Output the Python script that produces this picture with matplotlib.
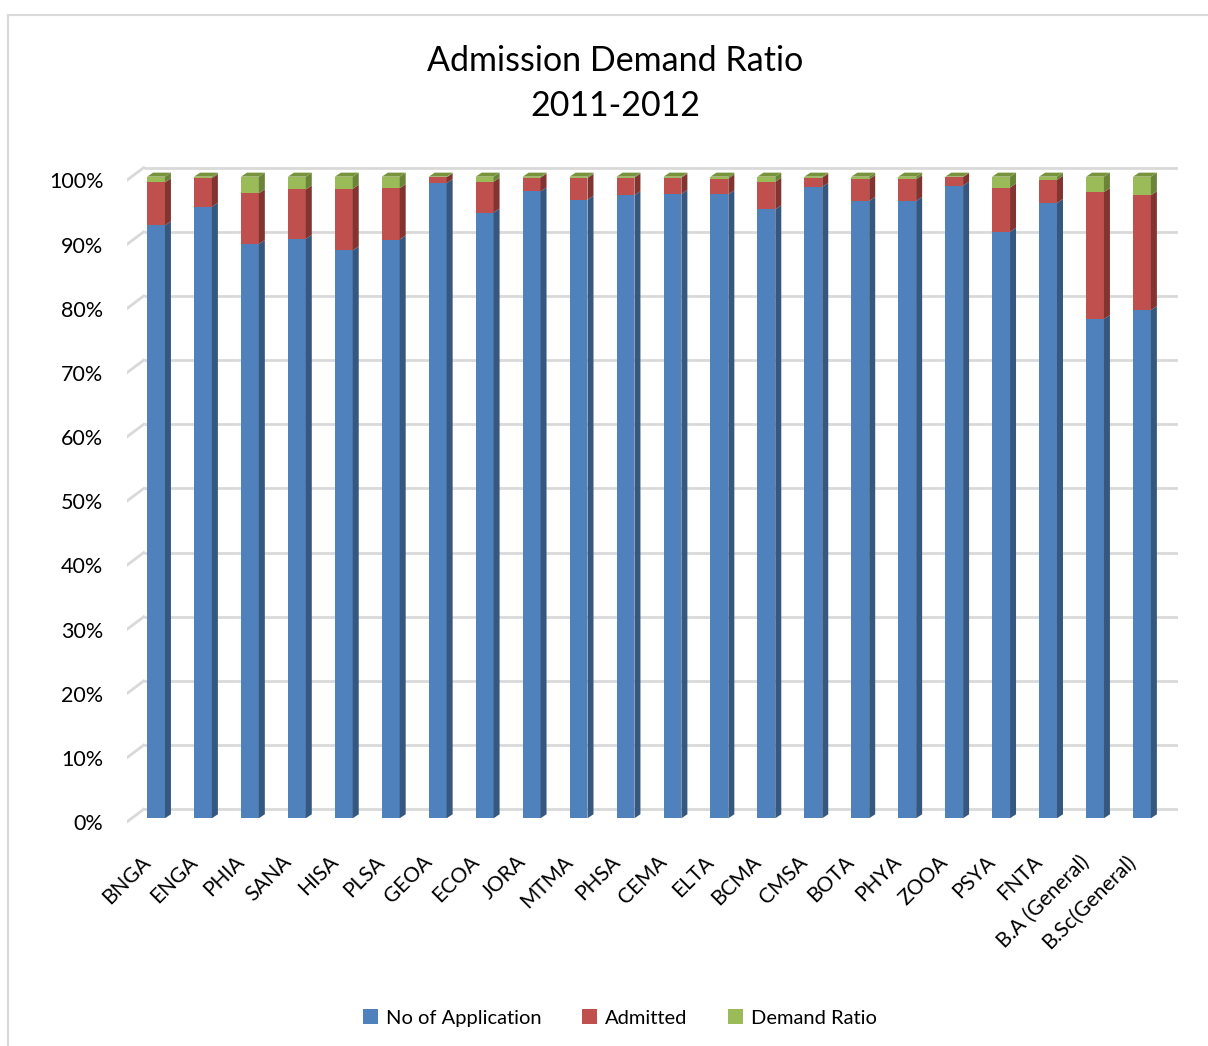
import numpy as np
import matplotlib
matplotlib.use("Agg")
import matplotlib.pyplot as plt
from matplotlib.patches import Polygon
from matplotlib.lines import Line2D
import matplotlib.transforms as mtransforms

plt.rcParams['font.family'] = ['Lato', 'DejaVu Sans']

categories = ["BNGA", "ENGA", "PHIA", "SANA", "HISA", "PLSA", "GEOA", "ECOA", "JORA",
              "MTMA", "PHSA", "CEMA", "ELTA", "BCMA", "CMSA", "BOTA", "PHYA", "ZOOA",
              "PSYA", "FNTA", "B.A (General)", "B.Sc(General)"]
applications = [92.4, 95.3, 89.5, 90.3, 88.5, 90.2, 99.0, 94.4, 97.7, 96.4, 97.1,
                97.3, 97.25, 94.9, 98.4, 96.2, 96.2, 98.6, 91.4, 95.9, 77.8, 79.2]
admitted = [6.7, 4.45, 7.9, 7.7, 9.6, 8.0, 0.9, 4.8, 2.15, 3.4, 2.75,
            2.55, 2.45, 4.3, 1.45, 3.4, 3.4, 1.35, 6.9, 3.6, 19.8, 17.9]
demand_ratio = [0.9, 0.25, 2.6, 2.0, 1.9, 1.8, 0.1, 0.8, 0.15, 0.2, 0.15,
                0.15, 0.3, 0.8, 0.15, 0.4, 0.4, 0.05, 1.7, 0.5, 2.4, 2.9]
series_names = ["No of Application", "Admitted", "Demand Ratio"]
y_ticks = list(range(0, 101, 10))

front_cols = ["#4F81BD", "#C0504D", "#9BBB59"]
side_cols = ["#36587F", "#823431", "#6A853A"]
top_cols = ["#5A8AC4", "#C85F5C", "#77933C"]

W, H = 1208, 1046
fig = plt.figure(figsize=(W / 100, H / 100), dpi=100)

# axes geometry (pixels)
px_per_unit = 6.416
ax_left, ax_right = 127, 1178
ax_top, ax_bot = 157.4, 831.1
ax = fig.add_axes([ax_left / W, 1 - ax_bot / H, (ax_right - ax_left) / W, (ax_bot - ax_top) / H])
x0 = -0.618
x1 = x0 + (ax_right - ax_left) / 46.95
ax.set_xlim(x0, x1)
ax.set_ylim(-2, 103)
for s in ax.spines.values():
    s.set_visible(False)

# back wall gridlines with perspective
depth_x = 16.7 / 46.95
grid_col = "#D9D9D9"
for v in y_ticks:
    ax.plot([x0 + depth_x, x1], [v + 1.4, v + 1.4], color=grid_col, lw=2.0, zorder=0.5,
            solid_capstyle="butt")
    ax.plot([x0, x0 + depth_x], [v - 0.55, v + 1.4], color=grid_col, lw=2.0, zorder=0.5)

xs = np.arange(len(categories))
bw = 0.38
dx = 6.0 / 46.95
dy = 4.0 / px_per_unit
bottoms = np.zeros(len(categories))
data = [applications, admitted, demand_ratio]
for k, vals in enumerate(data):
    vals = np.array(vals)
    ax.bar(xs, vals, bw, bottom=bottoms, color=front_cols[k], edgecolor="none",
           label=series_names[k], zorder=2)
    for i in range(len(xs)):
        y0 = bottoms[i]
        y1 = y0 + vals[i]
        xr = xs[i] + bw / 2
        side = Polygon([(xr, y0), (xr + dx, y0 + dy), (xr + dx, y1 + dy), (xr, y1)],
                       closed=True, facecolor=side_cols[k], edgecolor="none", zorder=2)
        ax.add_patch(side)
    bottoms = bottoms + vals

for i in range(len(xs)):
    xl = xs[i] - bw / 2
    xr = xs[i] + bw / 2
    t = bottoms[i]
    top = Polygon([(xl, t), (xr, t), (xr + dx, t + dy), (xl + dx, t + dy)], closed=True,
                  facecolor=top_cols[2], edgecolor="none", zorder=2)
    ax.add_patch(top)

ax.set_yticks(np.array(y_ticks) - 0.6)
ax.set_yticklabels([f"{v}%" for v in y_ticks], fontsize=15.5)
ax.tick_params(axis="y", length=0, pad=17)
ax.set_xticks(xs)
ax.set_xticklabels(categories, fontsize=15, rotation=45, ha="right", va="center",
                   rotation_mode="anchor")
ax.tick_params(axis="x", length=0, pad=20)
offset = mtransforms.ScaledTranslation(-9 / 100, 0, fig.dpi_scale_trans)
for lab in ax.get_xticklabels():
    lab.set_transform(lab.get_transform() + offset)

fig.text(615 / W, 1 - 61 / H, "Admission Demand Ratio", ha="center", va="center", fontsize=24.5)
fig.text(615 / W, 1 - 106 / H, "2011-2012", ha="center", va="center", fontsize=24.5)

handles = [plt.Rectangle((0, 0), 1, 1, facecolor=c, edgecolor="none") for c in front_cols]
fig.legend(handles, series_names, loc="center", bbox_to_anchor=(620 / W, 1 - 1018 / H),
           ncol=3, frameon=False, fontsize=14.5, handlelength=0.75, handleheight=0.75,
           handletextpad=0.4, columnspacing=2.0)

# outer chart border
fig.add_artist(Line2D([8 / W, 8 / W], [0, 1 - 15 / H], transform=fig.transFigure,
                      color="#D9D9D9", lw=1.5))
fig.add_artist(Line2D([8 / W, 1], [1 - 15 / H, 1 - 15 / H], transform=fig.transFigure,
                      color="#D9D9D9", lw=1.5))

fig.savefig("out.png", dpi=100, facecolor="white")
